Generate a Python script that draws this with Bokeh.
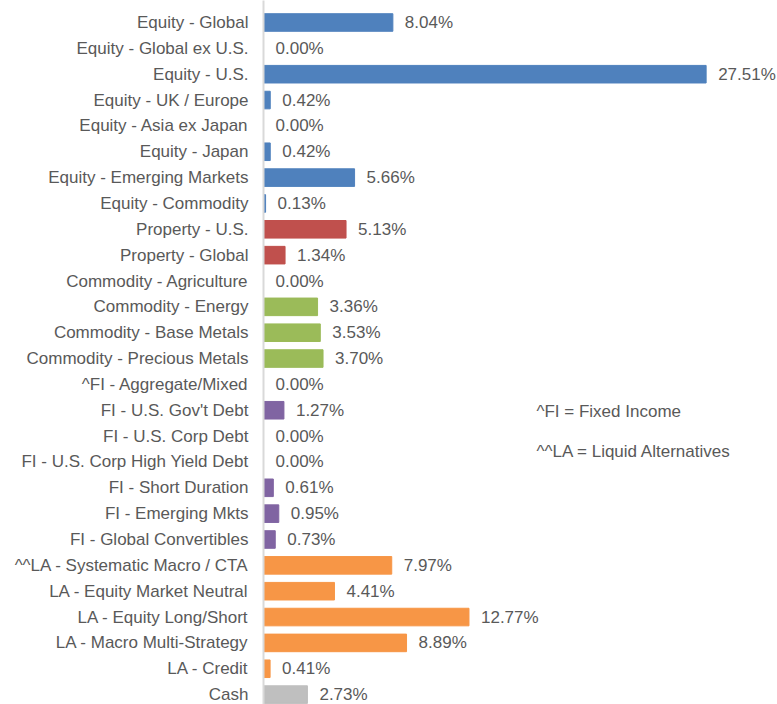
from bokeh.plotting import figure
from bokeh.models import Range1d, FixedTicker, ColumnDataSource, Label
from bokeh.core.properties import value
from bokeh.embed import file_html
from bokeh.resources import INLINE

categories = [
    "Equity - Global", "Equity - Global ex U.S.", "Equity - U.S.", "Equity - UK / Europe",
    "Equity - Asia ex Japan", "Equity - Japan", "Equity - Emerging Markets", "Equity - Commodity",
    "Property - U.S.", "Property - Global",
    "Commodity - Agriculture", "Commodity - Energy", "Commodity - Base Metals", "Commodity - Precious Metals",
    "^FI - Aggregate/Mixed", "FI - U.S. Gov't Debt", "FI - U.S. Corp Debt", "FI - U.S. Corp High Yield Debt",
    "FI - Short Duration", "FI - Emerging Mkts", "FI - Global Convertibles",
    "^^LA - Systematic Macro / CTA", "LA - Equity Market Neutral", "LA - Equity Long/Short",
    "LA - Macro Multi-Strategy", "LA - Credit",
    "Cash",
]
values = [
    8.04, 0.00, 27.51, 0.42, 0.00, 0.42, 5.66, 0.13,
    5.13, 1.34,
    0.00, 3.36, 3.53, 3.70,
    0.00, 1.27, 0.00, 0.00, 0.61, 0.95, 0.73,
    7.97, 4.41, 12.77, 8.89, 0.41,
    2.73,
]
groups = (["Equity"] * 8 + ["Property"] * 2 + ["Commodity"] * 4 + ["FI"] * 7 + ["LA"] * 5 + ["Cash"])
group_colors = {
    "Equity": "#4F81BD", "Property": "#C0504D", "Commodity": "#9BBB59",
    "FI": "#8064A2", "LA": "#F79646", "Cash": "#BFBFBF",
}
notes = ["^FI = Fixed Income", "^^LA = Liquid Alternatives"]

FONT = "Liberation Sans"
TEXT_COLOR = "#595959"

n = len(categories)
ypos = list(range(n))
src = ColumnDataSource(dict(
    y=ypos,
    v=values,
    color=[group_colors[g] for g in groups],
    label=[f"{v:.2f}%" for v in values],
))

px_per_unit = 16.09
row_px = 25.85
first_row_px = 22
frame_left = 263
W, H = 777, 704

p = figure(
    width=W, height=H, output_backend="svg", toolbar_location=None,
    x_range=Range1d(0, (W - frame_left) / px_per_unit),
    y_range=Range1d((H - first_row_px) / row_px, -first_row_px / row_px),
    min_border_left=frame_left, min_border_right=0, min_border_top=0, min_border_bottom=0,
)
p.outline_line_color = None
p.xgrid.visible = False
p.ygrid.visible = False
p.xaxis.visible = False

p.hbar(y="y", right="v", left=0, height=0.68, color="color", source=src)
p.text(x="v", y="y", text="label", source=src, x_offset=12,
       text_font=value(FONT), text_font_size="17px", text_color=TEXT_COLOR,
       text_baseline="middle", text_align="left")

yaxis = p.yaxis[0]
yaxis.ticker = FixedTicker(ticks=ypos)
yaxis.major_label_overrides = {i: c for i, c in enumerate(categories)}
yaxis.major_tick_line_color = None
yaxis.minor_tick_line_color = None
yaxis.major_tick_out = 0
yaxis.major_tick_in = 0
yaxis.major_label_standoff = 15
yaxis.axis_line_color = "#D9D9D9"
yaxis.axis_line_width = 2
yaxis.major_label_text_font = FONT
yaxis.major_label_text_font_size = "17px"
yaxis.major_label_text_color = TEXT_COLOR

note_x = (536 - frame_left) / px_per_unit
for txt, py in zip(notes, [411, 451]):
    p.add_layout(Label(x=note_x, y=(py - first_row_px) / row_px, text=txt,
                       text_font=FONT, text_font_size="17px", text_color=TEXT_COLOR,
                       text_baseline="middle", text_align="left"))

open("out.html", "w").write(file_html(p, INLINE))
